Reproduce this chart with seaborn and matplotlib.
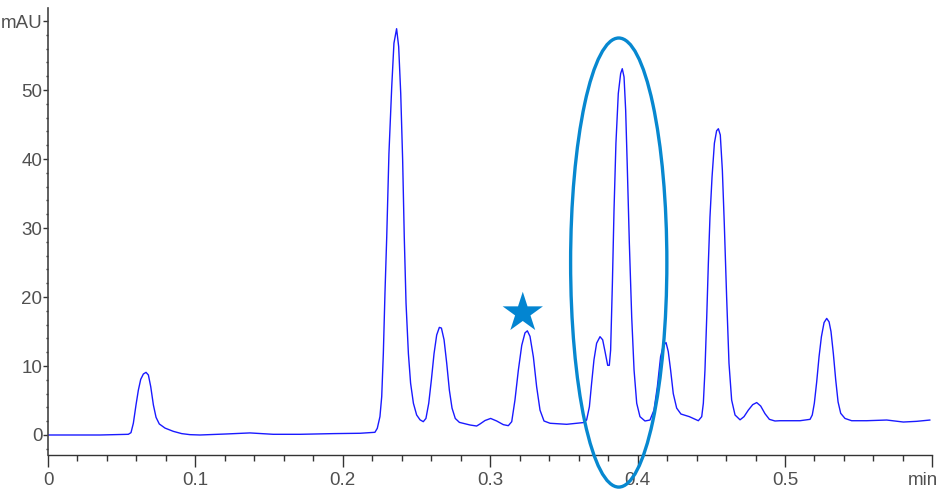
import matplotlib
matplotlib.use("Agg")
import matplotlib.pyplot as plt
from matplotlib.patches import Ellipse
from matplotlib.ticker import MultipleLocator, FixedLocator
from matplotlib.transforms import ScaledTranslation
import seaborn as sns
import pandas as pd

# ---- data ----
time_min = [
    0.0, 0.0353, 0.0545, 0.0563, 0.0579, 0.0597, 0.0613, 0.0629, 0.0647, 0.0665,
    0.0681, 0.0697, 0.0715, 0.0733, 0.0755, 0.0794, 0.0850, 0.0907, 0.0963, 0.1031,
    0.1212, 0.1370, 0.1528, 0.1710, 0.1936, 0.2117, 0.2218, 0.2234, 0.2252, 0.2264,
    0.2275, 0.2286, 0.2298, 0.2313, 0.2332, 0.2347, 0.2365, 0.2379, 0.2393, 0.2406,
    0.2417, 0.2429, 0.2445, 0.2460, 0.2479, 0.2501, 0.2524, 0.2546, 0.2564, 0.2583,
    0.2601, 0.2619, 0.2637, 0.2655, 0.2669, 0.2687, 0.2705, 0.2723, 0.2741, 0.2763,
    0.2791, 0.2863, 0.2908, 0.2931, 0.2965, 0.3003, 0.3044, 0.3089, 0.3123, 0.3146,
    0.3168, 0.3191, 0.3214, 0.3236, 0.3252, 0.3270, 0.3293, 0.3315, 0.3338, 0.3365,
    0.3406, 0.3519, 0.3632, 0.3654, 0.3673, 0.3688, 0.3704, 0.3722, 0.3745, 0.3763,
    0.3779, 0.3797, 0.3808, 0.3817, 0.3829, 0.3840, 0.3853, 0.3869, 0.3885, 0.3896,
    0.3908, 0.3919, 0.3930, 0.3944, 0.3960, 0.3976, 0.3994, 0.4016, 0.4050, 0.4084,
    0.4111, 0.4134, 0.4156, 0.4175, 0.4193, 0.4208, 0.4224, 0.4242, 0.4265, 0.4294,
    0.4351, 0.4378, 0.4412, 0.4435, 0.4446, 0.4457, 0.4469, 0.4480, 0.4491, 0.4505,
    0.4521, 0.4536, 0.4548, 0.4561, 0.4575, 0.4588, 0.4604, 0.4620, 0.4638, 0.4661,
    0.4695, 0.4722, 0.4751, 0.4781, 0.4808, 0.4835, 0.4864, 0.4894, 0.4932, 0.4966,
    0.5102, 0.5170, 0.5185, 0.5199, 0.5215, 0.5231, 0.5247, 0.5265, 0.5283, 0.5299,
    0.5312, 0.5328, 0.5344, 0.5360, 0.5378, 0.5407, 0.5452, 0.5554, 0.5690, 0.5803,
    0.5893, 0.5984]
absorbance_mAU = [
    0.0, 0.0, 0.1, 0.34, 1.7, 4.35, 6.5, 8.07, 8.84, 9.08,
    8.7, 7.0, 4.35, 2.56, 1.6, 1.0, 0.53, 0.2, 0.05, 0.0,
    0.15, 0.3, 0.1, 0.1, 0.2, 0.25, 0.39, 0.97, 2.66, 5.56,
    11.8, 20.5, 28.7, 40.8, 50.5, 56.8, 58.9, 56.3, 49.5, 39.9,
    28.7, 19.1, 11.8, 7.5, 4.6, 2.9, 2.2, 1.93, 2.4, 4.6,
    8.0, 11.8, 14.5, 15.6, 15.5, 13.8, 10.4, 6.5, 3.9, 2.4,
    1.83, 1.45, 1.3, 1.6, 2.1, 2.4, 2.03, 1.5, 1.35, 1.93,
    5.07, 9.4, 13.0, 14.8, 15.1, 14.3, 11.3, 7.0, 3.6, 2.03,
    1.7, 1.55, 1.8, 2.17, 4.1, 7.5, 10.9, 13.3, 14.25, 13.8,
    12.1, 10.1, 10.1, 12.3, 22.0, 32.6, 42.3, 49.5, 52.4, 53.1,
    51.9, 47.1, 38.9, 27.8, 17.1, 9.4, 4.6, 2.66, 2.03, 2.17,
    3.6, 7.0, 11.35, 13.0, 13.4, 12.1, 9.4, 6.0, 3.9, 3.04,
    2.66, 2.4, 2.07, 2.66, 4.6, 9.4, 17.1, 24.9, 31.6, 37.4,
    42.3, 44.1, 44.4, 43.5, 38.4, 30.7, 20.0, 10.4, 5.07, 2.9,
    2.2, 2.66, 3.6, 4.4, 4.7, 4.2, 3.1, 2.27, 2.03, 2.07,
    2.07, 2.27, 2.9, 4.6, 7.7, 11.35, 14.25, 16.3, 16.9, 16.4,
    15.0, 11.8, 8.0, 4.8, 3.14, 2.4, 2.07, 2.07, 2.17, 1.88,
    1.98, 2.17]

x_ticks = [0, 0.1, 0.2, 0.3, 0.4, 0.5, 0.6]
x_tick_labels = ["0", "0.1", "0.2", "0.3", "0.4", "0.5", "min"]
y_ticks = [0, 10, 20, 30, 40, 50, 60]
y_tick_labels = ["0", "10", "20", "30", "40", "50", "mAU"]

star_time = [0.3221]
star_value = [17.7]

ellipse_center = (0.3872, 25.0)
ellipse_width = 0.0653
ellipse_height = 65.1

df = pd.DataFrame({"time": time_min, "mAU": absorbance_mAU})

sns.set_style("ticks")
plt.rcParams["font.family"] = ["Liberation Sans", "DejaVu Sans"]

fig = plt.figure(figsize=(9.39, 4.92), dpi=100)
ax = fig.add_axes([48 / 939, (492 - 455) / 492, (932.4 - 48) / 939, (455 - 8) / 492])

sns.lineplot(data=df, x="time", y="mAU", ax=ax, color="#1a1aff", linewidth=1.0,
             estimator=None, sort=False)

sns.scatterplot(x=star_time, y=star_value, ax=ax, marker="*", s=30.5 ** 2,
                color="#0385d1", edgecolor="none", linewidth=0, zorder=5)

ell = Ellipse(ellipse_center, ellipse_width, ellipse_height, fill=False,
              edgecolor="#0788d0", linewidth=2.4, clip_on=False, zorder=6)
ax.add_patch(ell)

ax.set_xlim(0, 0.6)
ax.set_ylim(-2.9, 61.9)
ax.set_xlabel("")
ax.set_ylabel("")

ax.xaxis.set_major_locator(FixedLocator(x_ticks))
ax.set_xticklabels(x_tick_labels)
ax.xaxis.set_minor_locator(MultipleLocator(0.02))
ax.yaxis.set_major_locator(FixedLocator(y_ticks))
ax.set_yticklabels(y_tick_labels)
ax.yaxis.set_minor_locator(MultipleLocator(2))

tick_col = "#333333"
lab_col = "#505050"
ax.tick_params(axis="x", which="major", length=8.6, width=1.0, color=tick_col,
               labelsize=13.5, labelcolor=lab_col, pad=3.5, direction="out")
ax.tick_params(axis="x", which="minor", length=4.3, width=1.0, color=tick_col, direction="out")
ax.tick_params(axis="y", which="major", length=3.6, width=1.0, color=tick_col,
               labelsize=13.5, labelcolor=lab_col, pad=0.5, direction="out")
ax.tick_params(axis="y", which="minor", length=1.8, width=1.0, color=tick_col, direction="out")

for side in ["top", "right"]:
    ax.spines[side].set_visible(False)
ax.spines["left"].set_color("#444444")
ax.spines["left"].set_linewidth(1.2)
ax.spines["bottom"].set_color("#333333")
ax.spines["bottom"].set_linewidth(1.0)

# "min" label aligned to the right edge
last = ax.get_xticklabels()[-1]
last.set_horizontalalignment("right")
last.set_transform(last.get_transform() + ScaledTranslation(6 / 100, 0, fig.dpi_scale_trans))

fig.savefig("out.png", dpi=100)
